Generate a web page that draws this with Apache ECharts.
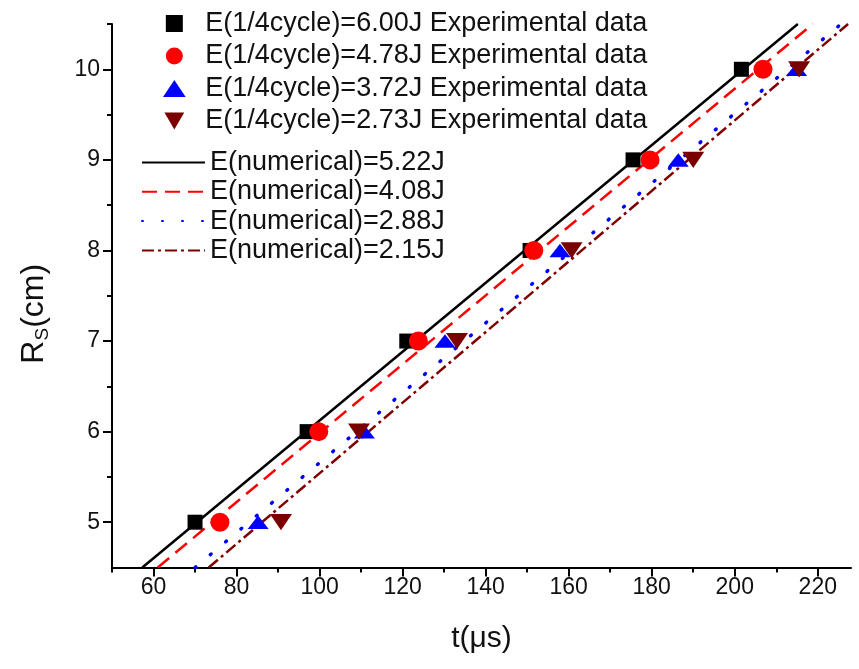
<!DOCTYPE html>
<html>
<head>
<meta charset="utf-8">
<script src="https://cdn.jsdelivr.net/npm/echarts@6/dist/echarts.min.js"></script>
<style>
  html, body { margin: 0; padding: 0; background: #fff; }
  #chart { width: 859px; height: 669px; }
</style>
</head>
<body>
<div id="chart"></div>
<script>
// Shock radius R_S versus time t for four discharge energies:
// measured points (markers) and numerical results (lines).

const FONT = '"Liberation Sans", Arial, Helvetica, sans-serif';

// Measured radius steps (cm)
const radiusCm = [5, 6, 7, 8, 9, 10];

// Arrival times (µs) at each radius, one array per measured energy
const tExp600 = [70.0, 97.0, 121.0, 150.7, 175.5, 201.6];
const tExp478 = [76.0, 99.8, 123.8, 151.6, 179.6, 206.8];
const tExp372 = [85.2, 110.8, 130.2, 157.9, 186.4, 214.9];
const tExp273 = [90.7, 109.5, 133.1, 160.7, 190.0, 215.5];

// Numerical curves: end points (t in µs, R in cm)
const tNum522 = [57.3, 215.2];
const tNum408 = [61.0, 218.8];
const tNum288 = [70.0, 225.6];
const tNum215 = [73.3, 227.3];
const rNum = [4.5, 10.5];

const expNames = [
  'E(1/4cycle)=6.00J Experimental data',
  'E(1/4cycle)=4.78J Experimental data',
  'E(1/4cycle)=3.72J Experimental data',
  'E(1/4cycle)=2.73J Experimental data'
];
const numNames = [
  'E(numerical)=5.22J',
  'E(numerical)=4.08J',
  'E(numerical)=2.88J',
  'E(numerical)=2.15J'
];

// Axis ticks and labels
const xLabels = [60, 80, 100, 120, 140, 160, 180, 200, 220];
const xMinor = [50, 70, 90, 110, 130, 150, 170, 190, 210];
const yLabels = [5, 6, 7, 8, 9, 10];
const yMinor = [5.5, 6.5, 7.5, 8.5, 9.5, 10.5];

const pairs = (ts, rs) => ts.map((t, i) => [t, rs[i]]);

const SQUARE = 'path://M0,0H10V10H0Z';
const TRI_UP = 'path://M12,0L24,18L0,18Z';
const TRI_DOWN = 'path://M0,0L21,0L10.5,18Z';

function scatter(name, ts, symbol, size, color) {
  return {
    name, type: 'scatter', data: pairs(ts, radiusCm),
    symbol, symbolSize: size, symbolKeepAspect: true,
    itemStyle: { color, opacity: 1 },
    z: 4, silent: true
  };
}
function line(name, ts, color, type, width, cap) {
  return {
    name, type: 'line', data: pairs(ts, rNum),
    symbol: 'none', showSymbol: false,
    lineStyle: { color, width, type, cap: cap || 'butt' },
    // transparent item colour keeps the legend icon a plain line
    itemStyle: { color: 'rgba(0,0,0,0)' },
    z: 2, silent: true
  };
}

const axisLineStyle = { color: '#000', width: 2 };
const legendText = { fontFamily: FONT, fontSize: 27, lineHeight: 27, color: '#111' };

const option = {
  backgroundColor: '#fff',
  animation: false,
  textStyle: { fontFamily: FONT },
  grid: { left: 112, right: 8, top: 24, bottom: 101.5, containLabel: false },
  legend: [
    {
      data: expNames, orient: 'vertical', left: 158, top: 5,
      itemWidth: 52, itemHeight: 17, itemGap: 5.5, selectedMode: false,
      textStyle: legendText
    },
    {
      data: numNames, orient: 'vertical', left: 136, top: 144,
      itemWidth: 63, itemHeight: 14, itemGap: 2.3, selectedMode: false,
      textStyle: legendText
    }
  ],
  xAxis: [
    {
      type: 'value', position: 'bottom', min: 50, max: 228,
      name: 't(μs)', nameLocation: 'middle', nameGap: 56,
      nameTextStyle: { fontFamily: FONT, fontSize: 30, color: '#111' },
      axisLine: { show: true, onZero: false, lineStyle: axisLineStyle },
      axisTick: { show: true, customValues: xLabels, length: 9, lineStyle: { color: '#000', width: 2 } },
      axisLabel: { customValues: xLabels, margin: 9, fontFamily: FONT, fontSize: 23, color: '#111' },
      splitLine: { show: false }
    },
    {
      type: 'value', position: 'bottom', min: 50, max: 228,
      axisLine: { show: false, onZero: false },
      axisTick: { show: true, customValues: xMinor, length: 5, lineStyle: { color: '#000', width: 2 } },
      axisLabel: { show: false },
      splitLine: { show: false }
    }
  ],
  yAxis: [
    {
      type: 'value', position: 'left', min: 4.5, max: 10.5,
      name: '{a|R}{s|S}{a|(cm)}', nameLocation: 'middle', nameGap: 60, nameRotate: 90,
      nameTextStyle: {
        padding: [0, 36, 0, 0],
        rich: {
          a: { fontFamily: FONT, fontSize: 32, lineHeight: 36, color: '#111' },
          s: { fontFamily: FONT, fontSize: 19, lineHeight: 14, verticalAlign: 'bottom', color: '#111' }
        }
      },
      axisLine: { show: true, onZero: false, lineStyle: axisLineStyle },
      axisTick: { show: true, customValues: yLabels, length: 9, lineStyle: { color: '#000', width: 2 } },
      axisLabel: { customValues: yLabels, margin: 12, fontFamily: FONT, fontSize: 23, color: '#111' },
      splitLine: { show: false }
    },
    {
      type: 'value', position: 'left', min: 4.5, max: 10.5,
      axisLine: { show: false, onZero: false },
      axisTick: { show: true, customValues: yMinor, length: 5, lineStyle: { color: '#000', width: 2 } },
      axisLabel: { show: false },
      splitLine: { show: false }
    }
  ],
  series: [
    line(numNames[0], tNum522, '#000000', 'solid', 2.5),
    line(numNames[1], tNum408, '#ff0000', [15, 8], 2.5),
    line(numNames[2], tNum288, '#0000ff', [1, 19], 3.5, 'round'),
    line(numNames[3], tNum215, '#800000', [12, 4, 3, 4], 2.5),
    scatter(expNames[0], tExp600, SQUARE, [15, 15], '#000000'),
    scatter(expNames[1], tExp478, 'circle', 19, '#ff0000'),
    scatter(expNames[2], tExp372, TRI_UP, [21, 18], '#0000ff'),
    scatter(expNames[3], tExp273, TRI_DOWN, [22, 19], '#7a0000')
  ]
};

const chart = echarts.init(document.getElementById('chart'), null, { renderer: 'canvas' });
chart.setOption(option);
</script>
</body>
</html>
